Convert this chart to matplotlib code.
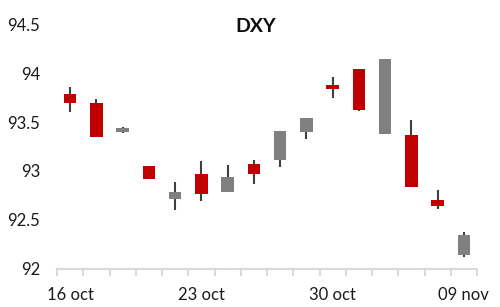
import matplotlib
matplotlib.use("Agg")
import matplotlib.pyplot as plt
import numpy as np

# DXY daily candles
dates = ["16 oct", "19 oct", "20 oct", "21 oct", "22 oct", "23 oct", "26 oct", "27 oct",
         "28 oct", "29 oct", "30 oct", "02 nov", "03 nov", "04 nov", "05 nov", "09 nov"]
opens  = [93.79, 93.70, 93.40, 93.05, 92.71, 92.97, 92.78, 93.07, 93.11, 93.40, 93.88, 94.04, 93.38, 93.37, 92.70, 92.14]
highs  = [93.86, 93.74, 93.45, 93.05, 92.89, 93.10, 93.06, 93.11, 93.41, 93.54, 93.96, 94.04, 94.15, 93.52, 92.80, 92.37]
lows   = [93.60, 93.35, 93.385, 92.92, 92.60, 92.69, 92.78, 92.87, 93.04, 93.33, 93.75, 93.61, 93.38, 92.83, 92.61, 92.115]
closes = [93.70, 93.35, 93.44, 92.92, 92.78, 92.76, 92.94, 92.97, 93.41, 93.54, 93.84, 93.62, 94.15, 92.83, 92.64, 92.34]
shown_labels = [0, 5, 10, 15]

plt.rcParams['font.family'] = ['Lato', 'DejaVu Sans']

fig = plt.figure(figsize=(5, 3.07), dpi=100)
ax = fig.add_axes([57/500, 1 - 268.5/307, 420/500, 244/307])

x = np.arange(len(dates))
o = np.array(opens); c = np.array(closes)
colors = ['#808080' if cc >= oo else '#C00000' for oo, cc in zip(o, c)]

ax.vlines(x, lows, highs, color='#404040', linewidth=1.5, zorder=2)
ax.bar(x, np.abs(c - o), bottom=np.minimum(o, c), width=0.47, color=colors, zorder=3)

ax.set_xlim(-0.5, len(dates) - 0.5)
ax.set_ylim(92, 94.5)
ax.set_yticks([92, 92.5, 93, 93.5, 94, 94.5])
ax.set_yticklabels(['92', '92.5', '93', '93.5', '94', '94.5'])
ax.tick_params(axis='y', length=0, pad=12, labelsize=12, labelcolor='#1a1a1a')

ax.set_xticks(shown_labels)
ax.set_xticklabels([dates[i] for i in shown_labels])
ax.set_xticks(np.arange(-0.5, len(dates)), minor=True)
ax.tick_params(axis='x', which='major', length=0, pad=13, labelsize=12, labelcolor='#1a1a1a')
ax.tick_params(axis='x', which='minor', length=5, width=1.5, color='#d9d9d9')

for s in ['top', 'right', 'left']:
    ax.spines[s].set_visible(False)
ax.spines['bottom'].set_color('#d9d9d9')
ax.spines['bottom'].set_linewidth(1.5)

fig.text(256/500, 1 - 32.3/307, 'DXY', ha='center', va='baseline',
         fontsize=14, fontweight='bold', color='#0d0d0d')

fig.savefig('out.png', dpi=100)
